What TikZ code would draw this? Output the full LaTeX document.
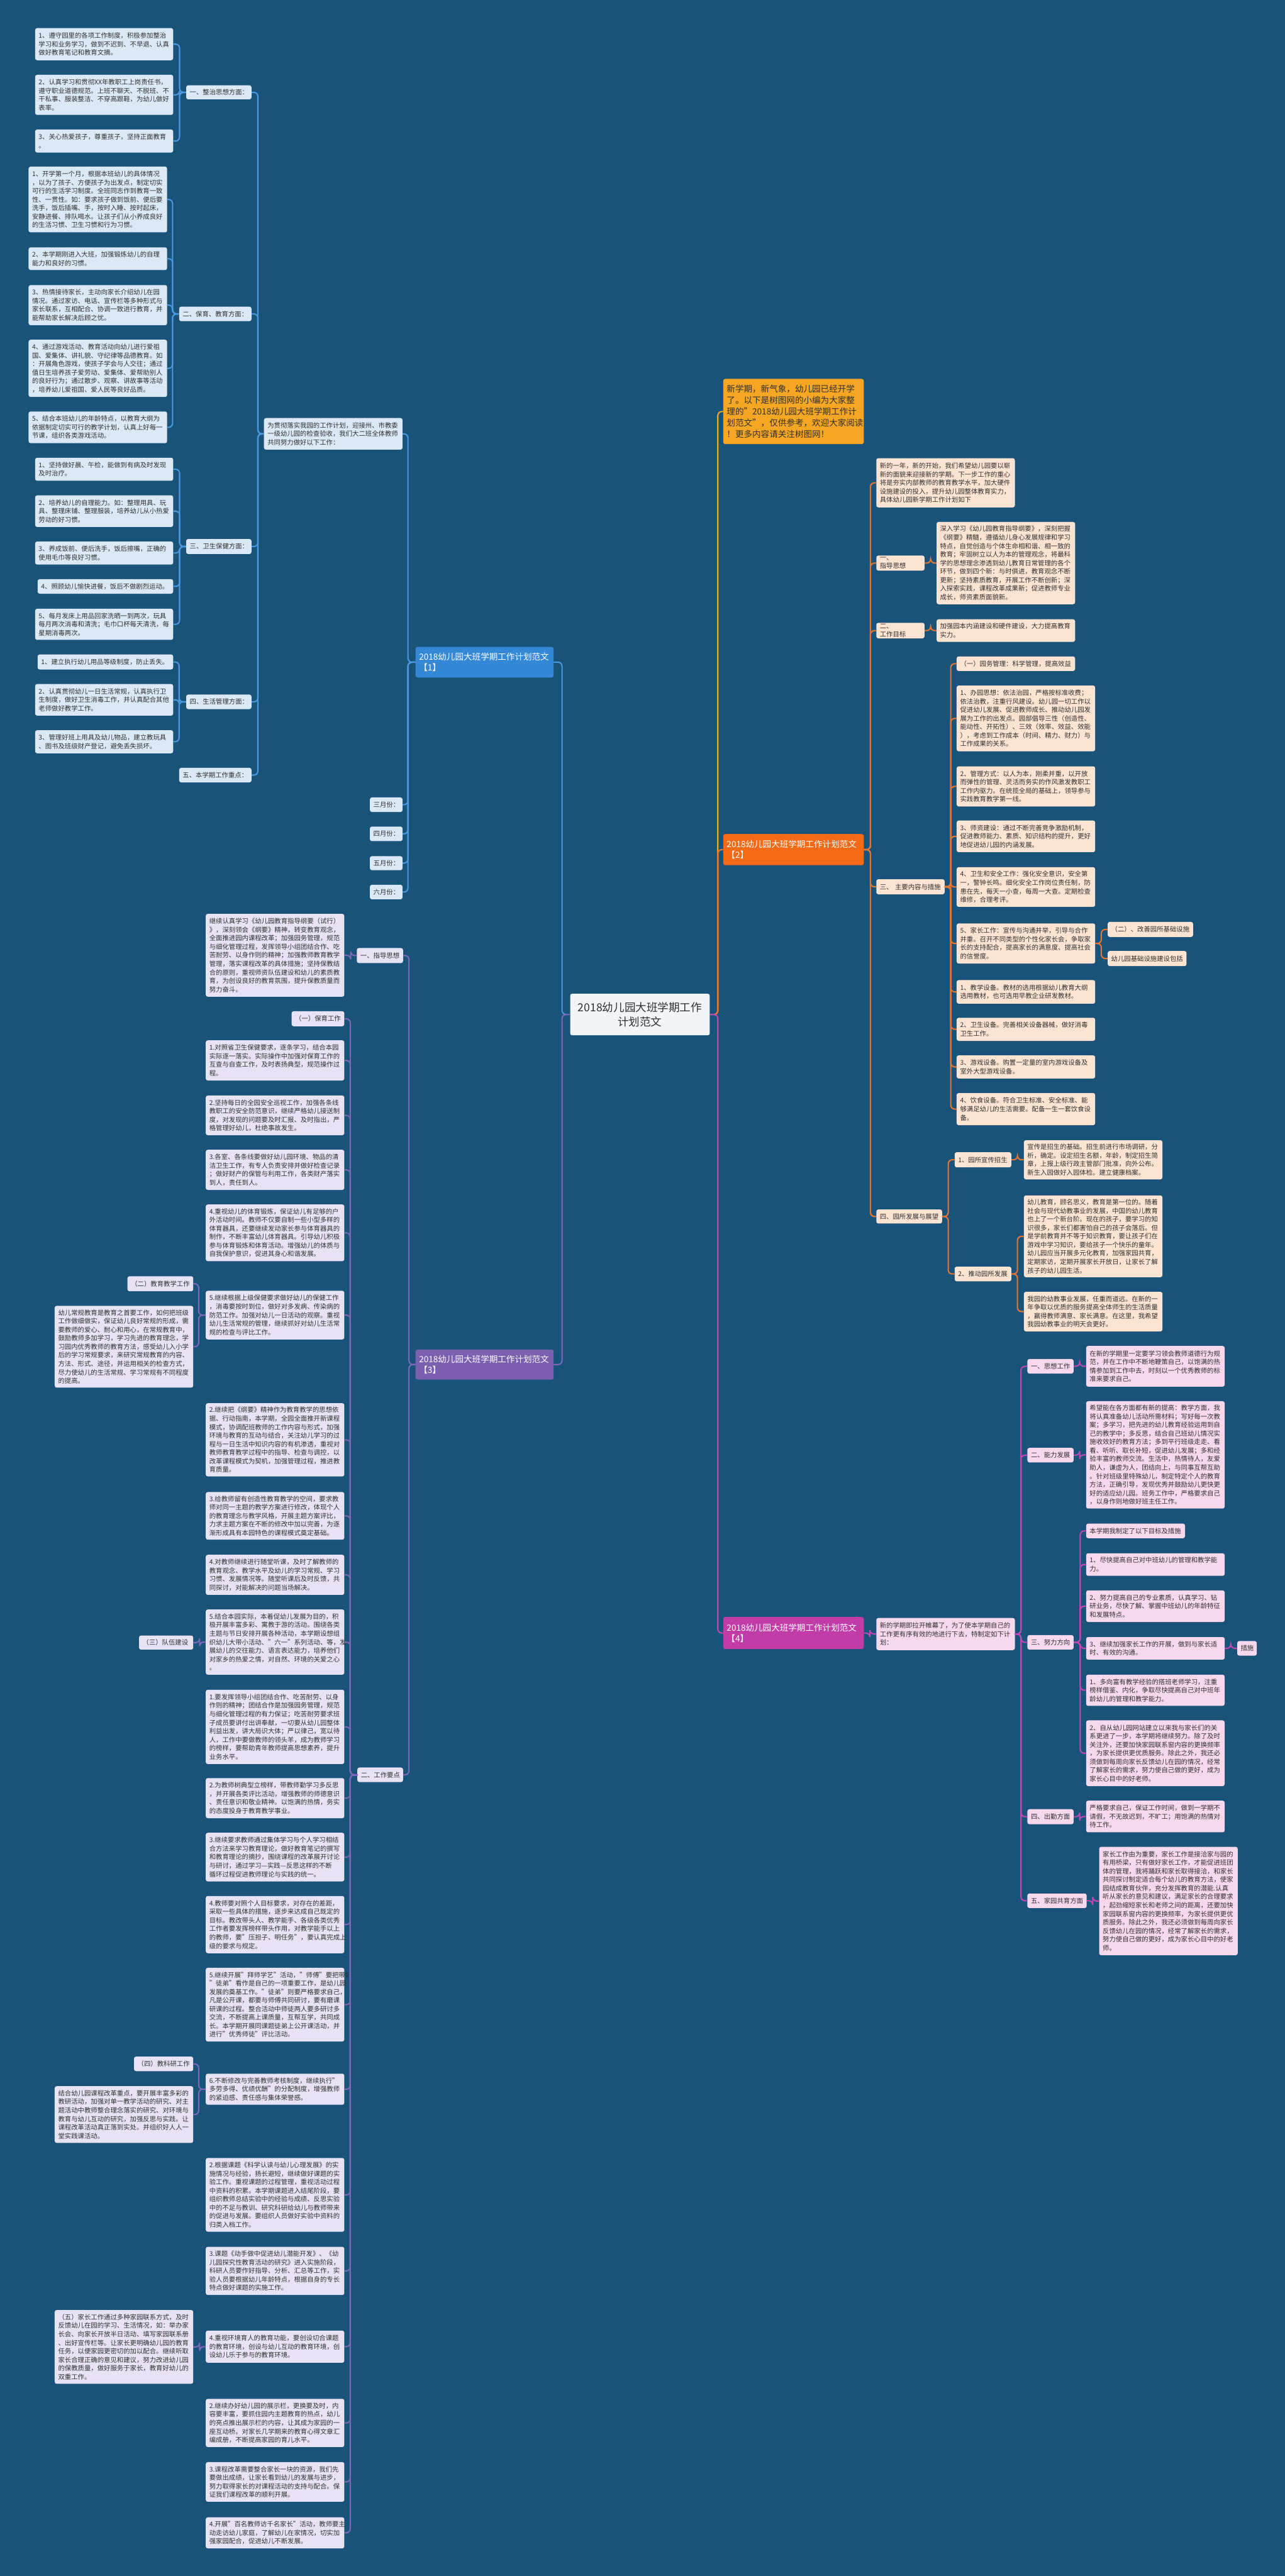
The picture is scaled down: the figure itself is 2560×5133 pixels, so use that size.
\documentclass[tikz,border=0pt]{standalone}
\usepackage{fontspec}
\setmainfont{Noto Sans CJK SC}
\definecolor{bg}{RGB}{26,83,122}
\definecolor{txt}{RGB}{48,48,48}
\definecolor{c1}{RGB}{52,136,214}
\definecolor{l1c}{RGB}{74,152,224}
\definecolor{f1}{RGB}{219,233,246}
\definecolor{c2}{RGB}{244,106,22}
\definecolor{l2c}{RGB}{232,118,48}
\definecolor{f2}{RGB}{253,228,210}
\definecolor{amb}{RGB}{245,166,35}
\definecolor{c3}{RGB}{123,96,176}
\definecolor{l3c}{RGB}{124,104,184}
\definecolor{f3}{RGB}{232,227,244}
\definecolor{c4}{RGB}{194,60,168}
\definecolor{l4c}{RGB}{190,72,182}
\definecolor{f4}{RGB}{247,216,237}
\tikzset{
  base/.style={rectangle, rounded corners=4pt, inner xsep=7pt, inner ysep=1pt, align=left, text=txt, font=\fontsize{13}{17}\selectfont},
  b1/.style={base, fill=f1},
  b2/.style={base, fill=f2},
  b3/.style={base, fill=f3},
  b4/.style={base, fill=f4},
  big/.style={base, text=white, font=\fontsize{17}{22}\selectfont},
  introbox/.style={base, fill=amb, text=txt, font=\fontsize{17}{22.6}\selectfont},
  conn/.style={line width=2.6pt, rounded corners=8pt},
  l1/.style={conn, draw=l1c},
  l2/.style={conn, draw=l2c},
  l3/.style={conn, draw=l3c},
  l4/.style={conn, draw=l4c},
}
\newcommand{\mynd}[7]{%
  \pgfmathsetmacro\bxw{#5-#3}\pgfmathsetmacro\bxh{#6-#4}%
  \pgfmathsetmacro\bxt{#5-#3-14}%
  \pgfmathsetmacro\bxcx{(#3+#5)/2}\pgfmathsetmacro\bxcy{(#4+#6)/2}%
  \node[#2, text width=\bxt pt, minimum width=\bxw pt, minimum height=\bxh pt] (#1) at (\bxcx,\bxcy) {#7};}
\newcommand{\cR}[4]{\draw[#1] (#2.east) -- ++(#4,0) |- (#3.west);}
\newcommand{\cL}[4]{\draw[#1] (#2.west) -- ++(-#4,0) |- (#3.east);}
\begin{document}
\begin{tikzpicture}[x=1pt,y=-1pt]
\fill[bg] (0,0) rectangle (2560,5133);
\useasboundingbox (0,0) rectangle (2560,5133);

% center
\node[rectangle, rounded corners=4pt, fill=white!94!bg, text=txt, align=center, font=\fontsize{22}{28}\selectfont, minimum width=278pt, minimum height=83pt, inner sep=2pt] (C) at (1275,2021.5) {2018幼儿园大班学期工作\\计划范文};

% ===== Branch 1 =====
\mynd{n1}{big, fill=c1}{828}{1289}{1103}{1350}{2018幼儿园大班学期工作计划范文\\【1】}
\mynd{n1a}{b1}{526}{833}{802}{896}{为贯彻落实我园的工作计划，迎接州、市教委\\一级幼儿园的检查验收，我们大二班全体教师\\共同努力做好以下工作：}
\mynd{m3}{b1}{737}{1589}{802}{1618}{三月份：}
\mynd{m4}{b1}{737}{1647}{802}{1676}{四月份：}
\mynd{m5}{b1}{737}{1706}{802}{1734}{五月份：}
\mynd{m6}{b1}{737}{1763}{802}{1792}{六月份：}
\mynd{L11}{b1}{371}{170}{501}{198}{一、整治思想方面：}
\mynd{L12}{b1}{357}{611}{501}{640}{二、保育、教育方面：}
\mynd{L13}{b1}{371}{1074}{501}{1104}{三、卫生保健方面：}
\mynd{L14}{b1}{371}{1384}{501}{1413}{四、生活管理方面：}
\mynd{L15}{b1}{357}{1530}{501}{1559}{五、本学期工作重点：}
\mynd{i11}{b1}{70}{56}{345}{120}{1、遵守园里的各项工作制度，积极参加整治\\学习和业务学习，做到不迟到、不早退、认真\\做好教育笔记和教育文摘。}
\mynd{i12}{b1}{70}{149}{345}{229}{2、认真学习和贯彻XX年教职工上岗责任书，\\遵守职业道德规范。上班不聊天、不脱班、不\\干私事、服装整洁、不穿高跟鞋，为幼儿做好\\表率。}
\mynd{i13}{b1}{70}{258}{345}{304}{3、关心热爱孩子，尊重孩子，坚持正面教育\\。}
\mynd{i21}{b1}{57}{332}{333}{463}{1、开学第一个月，根据本班幼儿的具体情况\\，以为了孩子、方便孩子为出发点，制定切实\\可行的生活学习制度。全班同志作到教育一致\\性、一贯性。如：要求孩子做到饭前、便后要\\洗手，饭后插嘴、手，按时入睡、按时起床，\\安静进餐、排队喝水。让孩子们从小养成良好\\的生活习惯、卫生习惯和行为习惯。}
\mynd{i22}{b1}{57}{493}{333}{538}{2、本学期刚进入大班，加强锻炼幼儿的自理\\能力和良好的习惯。}
\mynd{i23}{b1}{57}{568}{333}{648}{3、热情接待家长，主动向家长介绍幼儿在园\\情况。通过家访、电话、宣传栏等多种形式与\\家长联系，互相配合、协调一致进行教育，并\\能帮助家长解决后顾之忧。}
\mynd{i24}{b1}{57}{677}{333}{791}{4、通过游戏活动、教育活动向幼儿进行爱祖\\国、爱集体、讲礼貌、守纪律等品德教育。如\\：开展角色游戏，使孩子学会与人交往；通过\\值日生培养孩子爱劳动、爱集体、爱帮助别人\\的良好行为；通过散步、观察、讲故事等活动\\，培养幼儿爱祖国、爱人民等良好品质。}
\mynd{i25}{b1}{57}{820}{333}{883}{5、结合本班幼儿的年龄特点，以教育大纲为\\依据制定切实可行的教学计划，认真上好每一\\节课，组织各类游戏活动。}
\mynd{i31}{b1}{70}{912}{345}{958}{1、坚持做好晨、午检，能做到有病及时发现\\及时治疗。}
\mynd{i32}{b1}{70}{987}{345}{1050}{2、培养幼儿的自理能力。如：整理用具、玩\\具、整理床铺、整理服装，培养幼儿从小热爱\\劳动的好习惯。}
\mynd{i33}{b1}{70}{1079}{345}{1125}{3、养成饭前、便后洗手，饭后擦嘴，正确的\\使用毛巾等良好习惯。}
\mynd{i34}{b1}{75}{1154}{345}{1183}{4、照顾幼儿愉快进餐，饭后不做剧烈运动。}
\mynd{i35}{b1}{70}{1213}{345}{1275}{5、每月发床上用品回家洗晒一到两次，玩具\\每月两次消毒和清洗；毛巾口杯每天清洗，每\\星期消毒两次。}
\mynd{i41}{b1}{75}{1304}{345}{1334}{1、建立执行幼儿用品等级制度，防止丢失。}
\mynd{i42}{b1}{70}{1363}{345}{1426}{2、认真贯彻幼儿一日生活常规，认真执行卫\\生制度，做好卫生消毒工作，并认真配合其他\\老师做好教学工作。}
\mynd{i43}{b1}{70}{1455}{345}{1501}{3、管理好班上用具及幼儿物品，建立教玩具\\、图书及班级财产登记，避免丢失损坏。}

% ===== Branch 3 =====
\mynd{n3}{big, fill=c3}{828}{2689}{1103}{2749}{2018幼儿园大班学期工作计划范文\\【3】}
\mynd{n3L1}{b3}{711}{1889}{803}{1919}{一、指导思想}
\mynd{n3t1}{b3}{410}{1821}{686}{1986}{继续认真学习《幼儿园教育指导纲要（试行）\\》，深刻领会《纲要》精神，转变教育观念，\\全面推进园内课程改革；加强园务管理，规范\\与细化管理过程，发挥领导小组团结合作、吃\\苦耐劳、以身作则的精神；加强教师教育教学\\管理，落实课程改革的具体措施；坚持保教结\\合的原则，重视师资队伍建设和幼儿的素质教\\育，为创设良好的教育氛围，提升保教质量而\\努力奋斗。}
\mynd{n3L2}{b3}{712}{3522}{803}{3551}{二、工作要点}
\mynd{w1}{b3}{581}{2015}{686}{2045}{（一）保育工作}
\mynd{w2}{b3}{410}{2073}{686}{2153}{1.对照省卫生保健要求，逐条学习，结合本园\\实际逐一落实。实际操作中加强对保育工作的\\互查与自查工作，及时表扬典型，规范操作过\\程。}
\mynd{w3}{b3}{410}{2183}{686}{2262}{2.坚持每日的全园安全巡视工作，加强各条线\\教职工的安全防范意识，继续严格幼儿接送制\\度，对发现的问题要及时汇报、及时指出，严\\格管理好幼儿，杜绝事故发生。}
\mynd{w4}{b3}{410}{2291}{686}{2371}{3.各室、各条线要做好幼儿园环境、物品的清\\洁卫生工作，有专人负责安排并做好检查记录\\；做好财产的保管与利用工作，各类财产落实\\到人，责任到人。}
\mynd{w5}{b3}{410}{2400}{686}{2513}{4.重视幼儿的体育锻炼，保证幼儿有足够的户\\外活动时间。教师不仅要自制一些小型多样的\\体育器具，还要继续发动家长参与体育器具的\\制作，不断丰富幼儿体育器具。引导幼儿积极\\参与体育锻炼和体育活动。增强幼儿的体质与\\自我保护意识，促进其身心和谐发展。}
\mynd{w6}{b3}{410}{2572}{686}{2669}{5.继续根据上级保健要求做好幼儿的保健工作\\，消毒要按时到位，做好对多发病、传染病的\\防范工作。加强对幼儿一日活动的观察。重视\\幼儿生活常规的管理，继续抓好对幼儿生活常\\规的检查与评比工作。}
\mynd{w6a}{b3}{254}{2543}{385}{2573}{（二）教育教学工作}
\mynd{w6b}{b3}{109}{2602}{385}{2765}{幼儿常规教育是教育之首要工作，如何把班级\\工作做细做实，保证幼儿良好常规的形成，需\\要教师的爱心、耐心和用心，在常规教育中，\\鼓励教师多加学习，学习先进的教育理念，学\\习园内优秀教师的教育方法，感受幼儿入小学\\后的学习常规要求，来研究常规教育的内容、\\方法、形式、途径，并运用相关的检查方式，\\尽力使幼儿的生活常规、学习常规有不同程度\\的提高。}
\mynd{w7}{b3}{410}{2796}{686}{2942}{2.继续把《纲要》精神作为教育教学的思想依\\据、行动指南，本学期，全园全面推开新课程\\模式，协调配班教师的工作内容与形式，加强\\环境与教育的互动与结合，关注幼儿学习的过\\程与一日生活中知识内容的有机渗透，重视对\\教师教育教学过程中的指导、检查与调控，以\\改革课程模式为契机，加强管理过程，推进教\\育质量。}
\mynd{w8}{b3}{410}{2973}{686}{3068}{3.给教师留有创造性教育教学的空间，要求教\\师对同一主题的教学方案进行修改，体现个人\\的教育理念与教学风格，开展主题方案评比，\\力求主题方案在不断的修改中加以完善，为逐\\渐形成具有本园特色的课程模式奠定基础。}
\mynd{w9}{b3}{410}{3098}{686}{3178}{4.对教师继续进行随堂听课，及时了解教师的\\教育观念、教学水平及幼儿的学习常规、学习\\习惯、发展情况等。随堂听课后及时反馈，共\\同探讨，对能解决的问题当场解决。}
\mynd{w10}{b3}{410}{3207}{686}{3337}{5.结合本园实际，本着促幼儿发展为目的，积\\极开展丰富多彩、寓教于游的活动。围绕各类\\主题与节日安排开展各种活动，本学期设想组\\织幼儿大带小活动、"六一"系列活动、等，发\\展幼儿的交往能力、语言表达能力，培养他们\\对家乡的热爱之情，对自然、环境的关爱之心\\。}
\mynd{w10a}{b3}{277}{3259}{385}{3287}{（三）队伍建设}
\mynd{w11}{b3}{410}{3367}{686}{3515}{1.要发挥领导小组团结合作、吃苦耐劳、以身\\作则的精神；团结合作是加强园务管理，规范\\与细化管理过程的有力保证；吃苦耐劳要求班\\子成员要讲付出讲奉献，一切要从幼儿园整体\\利益出发，讲大局识大体；严以律己，宽以待\\人，工作中要做教师的领头羊，成为教师学习\\的榜样，要帮助青年教师提高思想素养，提升\\业务水平。}
\mynd{w12}{b3}{410}{3543}{686}{3623}{2.为教师树典型立榜样，带教师勤学习多反思\\，并开展各类评比活动，增强教师的师德意识\\、责任意识和敬业精神。以饱满的热情，务实\\的态度投身于教育教学事业。}
\mynd{w13}{b3}{410}{3652}{686}{3749}{3.继续要求教师通过集体学习与个人学习相结\\合方法来学习教育理论，做好教育笔记的撰写\\和教育理论的摘抄，围绕课程的改革展开讨论\\与研讨，通过学习—实践—反思这样的不断\\循环过程促进教师理论与实践的统一。}
\mynd{w14}{b3}{410}{3778}{686}{3892}{4.教师要对照个人目标要求，对存在的差距，\\采取一些具体的措施，逐步来达成自己既定的\\目标。教改带头人、教学能手、各级各类优秀\\工作者要发挥榜样带头作用，对教学能手以上\\的教师，要"压担子、明任务"，要认真完成上\\级的要求与规定。}
\mynd{w15}{b3}{410}{3921}{686}{4068}{5.继续开展"拜师学艺"活动，"师傅"要把带好\\"徒弟"看作是自己的一项重要工作，是幼儿园\\发展的奠基工作。"徒弟"则要严格要求自己，\\凡是公开课，都要与师傅共同研讨，要有磨课\\研课的过程。整合活动中师徒两人要多研讨多\\交流，不断提高上课质量，互帮互学，共同成\\长。本学期开展同课题徒弟上公开课活动，并\\进行"优秀师徒"评比活动。}
\mynd{w16}{b3}{410}{4132}{686}{4194}{6.不断修改与完善教师考核制度，继续执行"\\多劳多得、优绩优酬"的分配制度，增强教师\\的紧迫感、责任感与集体荣誉感。}
\mynd{w16a}{b3}{267}{4098}{385}{4127}{（四）教科研工作}
\mynd{w16b}{b3}{109}{4157}{385}{4270}{结合幼儿园课程改革重点，要开展丰富多彩的\\教研活动，加强对单一教学活动的研究、对主\\题活动中教师整合理念落实的研究、对环境与\\教育与幼儿互动的研究，加强反思与实践。让\\课程改革活动真正落到实处。并组织好人人一\\堂实践课活动。}
\mynd{w17}{b3}{410}{4300}{686}{4447}{2.根据课题《科学认读与幼儿心理发展》的实\\施情况与经验，扬长避短，继续做好课题的实\\验工作。重视课题的过程管理，重视活动过程\\中资料的积累。本学期课题进入结尾阶段，要\\组织教师总结实验中的经验与成绩、反思实验\\中的不足与教训、研究科研给幼儿与教师带来\\的促进与发展。要组织人员做好实验中资料的\\归类入档工作。}
\mynd{w18}{b3}{410}{4477}{686}{4573}{3.课题《动手做中促进幼儿潜能开发》、《幼\\儿园探究性教育活动的研究》进入实施阶段，\\科研人员要作好指导、分析、汇总等工作，实\\验人员要根据幼儿年龄特点，根据自身的专长\\特点做好课题的实施工作。}
\mynd{w19}{b3}{410}{4644}{686}{4708}{4.重视环境育人的教育功能，要创设切合课题\\的教育环境，创设与幼儿互动的教育环境，创\\设幼儿乐于参与的教育环境。}
\mynd{w19a}{b3}{109}{4603}{385}{4750}{（五）家长工作通过多种家园联系方式，及时\\反馈幼儿在园的学习、生活情况，如：举办家\\长会、向家长开放半日活动、填写家园联系册\\、出好宣传栏等。让家长更明确幼儿园的教育\\任务，以便家园更密切的加以配合。继续听取\\家长合理正确的意见和建议，努力改进幼儿园\\的保教质量，做好服务于家长，教育好幼儿的\\双重工作。}
\mynd{w20}{b3}{410}{4780}{686}{4876}{2.继续办好幼儿园的展示栏，更换要及时，内\\容要丰富，要抓住园内主题教育的热点，幼儿\\的亮点推出展示栏的内容，让其成为家园的一\\座互动桥。对家长几学期来的教育心得文章汇\\编成册，不断提高家园的育儿水平。}
\mynd{w21}{b3}{410}{4906}{686}{4985}{3.课程改革需要整合家长一块的资源，我们先\\要做出成绩，让家长看到幼儿的发展与进步，\\努力取得家长的对课程活动的支持与配合。保\\证我们课程改革的顺利开展。}
\mynd{w22}{b3}{410}{5016}{686}{5078}{4.开展"百名教师访千名家长"活动，教师要主\\动走访幼儿家庭，了解幼儿在家情况，切实加\\强家园配合，促进幼儿不断发展。}

% ===== Branch 2 =====
\mynd{intro}{introbox}{1441}{755}{1721}{885}{新学期，新气象，幼儿园已经开学\\了。以下是树图网的小编为大家整\\理的"2018幼儿园大班学期工作计\\划范文"，仅供参考，欢迎大家阅读\\！更多内容请关注树图网！}
\mynd{n2}{big, fill=c2}{1441}{1662}{1721}{1724}{2018幼儿园大班学期工作计划范文\\【2】}
\mynd{r1}{b2}{1746}{913}{2022}{1011}{新的一年，新的开始，我们希望幼儿园要以崭\\新的面貌来迎接新的学期。下一步工作的重心\\将是夯实内部教师的教育教学水平，加大硬件\\设施建设的投入，提升幼儿园整体教育实力，\\具体幼儿园新学期工作计划如下}
\mynd{r2}{b2}{1746}{1107}{1842}{1137}{一、 指导思想}
\mynd{r2t}{b2}{1866}{1040}{2142}{1204}{深入学习《幼儿园教育指导纲要》，深刻把握\\《纲要》精髓，遵循幼儿身心发展规律和学习\\特点，自觉创造与个体生命相和谐、相一致的\\教育；牢固树立以人为本的管理观念，将最科\\学的思想理念渗透到幼儿教育日常管理的各个\\环节，做到四个新：与时俱进，教育观念不断\\更新；坚持素质教育，开展工作不断创新；深\\入探索实践，课程改革成果新；促进教师专业\\成长，师资素质面貌新。}
\mynd{r3}{b2}{1746}{1241}{1842}{1272}{二、 工作目标}
\mynd{r3t}{b2}{1866}{1234}{2142}{1279}{加强园本内涵建设和硬件建设，大力提高教育\\实力。}
\mynd{r4}{b2}{1746}{1752}{1882}{1782}{三、 主要内容与措施}
\mynd{s0}{b2}{1906}{1308}{2142}{1337}{（一）园务管理：科学管理，提高效益}
\mynd{s1}{b2}{1906}{1366}{2182}{1497}{1、办园思想：依法治园，严格按标准收费；\\依法治教，注重行风建设。幼儿园一切工作以\\促进幼儿发展、促进教师成长、推动幼儿园发\\展为工作的出发点。园部倡导三性（创造性、\\能动性、开拓性）、三效（效率、效益、效能\\），考虑到工作成本（时间、精力、财力）与\\工作成果的关系。}
\mynd{s2}{b2}{1906}{1527}{2182}{1607}{2、管理方式：以人为本，刚柔并重，以开放\\而弹性的管理、灵活而务实的作风激发教职工\\工作内驱力。在统揽全局的基础上，领导参与\\实践教育教学第一线。}
\mynd{s3}{b2}{1906}{1635}{2182}{1698}{3、师资建设：通过不断完善竞争激励机制，\\促进教师能力、素质、知识结构的提升，更好\\地促进幼儿园的内涵发展。}
\mynd{s4}{b2}{1906}{1728}{2182}{1807}{4、卫生和安全工作：强化安全意识，安全第\\一，警钟长鸣。细化安全工作岗位责任制，防\\患在先，每天一小查，每周一大查。定期检查\\维修，合理考评。}
\mynd{s5}{b2}{1906}{1840}{2182}{1920}{5、家长工作：宣传与沟通并举，引导与合作\\并重。召开不同类型的个性化家长会，争取家\\长的支持配合，提高家长的满意度、提高社会\\的信誉度。}
\mynd{s5a}{b2}{2207}{1837}{2377}{1867}{（二）、改善园所基础设施}
\mynd{s5b}{b2}{2207}{1895}{2364}{1925}{幼儿园基础设施建设包括}
\mynd{s6}{b2}{1906}{1953}{2182}{2000}{1、教学设备。教材的选用根据幼儿教育大纲\\选用教材，也可选用早教企业研发教材。}
\mynd{s7}{b2}{1906}{2028}{2182}{2074}{2、卫生设备。完善相关设备器械，做好消毒\\卫生工作。}
\mynd{s8}{b2}{1906}{2103}{2182}{2149}{3、游戏设备。购置一定量的室内游戏设备及\\室外大型游戏设备。}
\mynd{s9}{b2}{1906}{2178}{2182}{2242}{4、饮食设备。符合卫生标准、安全标准、能\\够满足幼儿的生活需要。配备一生一套饮食设\\备。}
\mynd{r5}{b2}{1746}{2410}{1877}{2438}{四、园所发展与展望}
\mynd{u1}{b2}{1902}{2296}{2015}{2326}{1、园所宣传招生}
\mynd{u1t}{b2}{2040}{2272}{2316}{2350}{宣传是招生的基础。招生前进行市场调研，分\\析，确定。设定招生名额，年龄，制定招生简\\章，上报上级行政主管部门批准，向外公布。\\新生入园做好入园体检。建立健康档案。}
\mynd{u2}{b2}{1902}{2524}{2015}{2553}{2、推动园所发展}
\mynd{u2a}{b2}{2040}{2382}{2316}{2545}{幼儿教育，顾名思义，教育是第一位的。随着\\社会与现代幼教事业的发展，中国的幼儿教育\\也上了一个新台阶。现在的孩子，要学习的知\\识很多，家长们都害怕自己的孩子会落后。但\\是学前教育并不等于知识教育，要让孩子们在\\游戏中学习知识，要给孩子一个快乐的童年。\\幼儿园应当开展多元化教育，加强家园共育，\\定期家访，定期开展家长开放日，让家长了解\\孩子的幼儿园生活。}
\mynd{u2b}{b2}{2040}{2574}{2316}{2653}{我园的幼教事业发展，任重而道远。在新的一\\年争取以优质的服务提高全体师生的生活质量\\，赢得教师满意、家长满意。在这里，我希望\\我园幼教事业的明天会更好。}

% ===== Branch 4 =====
\mynd{n4}{big, fill=c4}{1441}{3222}{1721}{3286}{2018幼儿园大班学期工作计划范文\\【4】}
\mynd{q0}{b4}{1746}{3224}{2022}{3288}{新的学期即拉开帷幕了，为了使本学期自己的\\工作更有序有效的地进行下去，特制定如下计\\划：}
\mynd{q1}{b4}{2047}{2708}{2139}{2737}{一、思想工作}
\mynd{q1t}{b4}{2164}{2682}{2440}{2763}{在新的学期里一定要学习领会教师道德行为规\\范，并在工作中不断地鞭策自己，以饱满的热\\情参加到工作中去，时刻以一个优秀教师的标\\准来要求自己。}
\mynd{q2}{b4}{2047}{2885}{2139}{2914}{二、能力发展}
\mynd{q2t}{b4}{2164}{2792}{2440}{3006}{希望能在各方面都有新的提高：教学方面，我\\将认真准备幼儿活动所需材料；写好每一次教\\案；多学习，把先进的幼儿教育经验运用到自\\己的教学中；多反思，结合自己班幼儿情况实\\施收效好的教育方法；多到平行班级走走、看\\看、听听、取长补短，促进幼儿发展；多和经\\验丰富的教师交流。生活中，热情待人，友爱\\助人，谦虚为人，团结向上，与同事互帮互助\\。针对班级里特殊幼儿，制定特定个人的教育\\方法，正确引导，发现优秀并鼓励幼儿更快更\\好的适应幼儿园。班务工作中，严格要求自己\\，以身作则地做好班主任工作。}
\mynd{q3}{b4}{2047}{3258}{2139}{3287}{三、努力方向}
\mynd{q3a}{b4}{2164}{3036}{2361}{3065}{本学期我制定了以下目标及措施}
\mynd{q3b}{b4}{2164}{3095}{2440}{3140}{1、尽快提高自己对中班幼儿的管理和教学能\\力。}
\mynd{q3c}{b4}{2164}{3169}{2440}{3232}{2、努力提高自己的专业素质，认真学习、钻\\研业务，尽快了解、掌握中班幼儿的年龄特征\\和发展特点。}
\mynd{q3d}{b4}{2164}{3262}{2440}{3307}{3、继续加强家长工作的开展，做到与家长适\\时、有效的沟通。}
\mynd{q3d1}{b4}{2465}{3270}{2504}{3299}{措施}
\mynd{q3e}{b4}{2164}{3337}{2440}{3399}{1、多向富有教学经验的搭班老师学习，注重\\榜样借鉴、内化，争取尽快提高自己对中班年\\龄幼儿的管理和教学能力。}
\mynd{q3f}{b4}{2164}{3428}{2440}{3559}{2、自从幼儿园网站建立以来我与家长们的关\\系更进了一步，本学期将继续努力。除了及时\\关注外，还要加快家园联系窗内容的更换频率\\，为家长提供更优质服务。除此之外，我还必\\须做到每周向家长反馈幼儿在园的情况，经常\\了解家长的需求，努力使自己做的更好，成为\\家长心目中的好老师。}
\mynd{q4}{b4}{2047}{3605}{2139}{3635}{四、出勤方面}
\mynd{q4t}{b4}{2164}{3588}{2440}{3651}{严格要求自己，保证工作时间，做到一学期不\\请假，不无故迟到，不旷工；用饱满的热情对\\待工作。}
\mynd{q5}{b4}{2047}{3773}{2165}{3802}{五、家园共育方面}
\mynd{q5t}{b4}{2190}{3680}{2466}{3896}{家长工作由为重要，家长工作是接洽家与园的\\有用桥梁，只有做好家长工作，才能促进班团\\体的管理，我将踊跃和家长取得接洽，和家长\\共同探讨制定适合每个幼儿的教育方法，使家\\园结成教育伙伴，充分发挥教育的潜能.认真\\听从家长的意见和建议，满足家长的合理要求\\，起劲缩短家长和老师之间的距离，还要加快\\家园联系窗内容的更换频率，为家长提供更优\\质服务。除此之外，我还必须做到每周向家长\\反馈幼儿在园的情况，经常了解家长的需求，\\努力使自己做的更好，成为家长心目中的好老\\师。}

% ===== connectors =====
\begin{scope}[on background layer/.style={}]
\cL{l1}{C}{n1}{16}
\cL{l3}{C}{n3}{16}
\cR{conn, draw=amb}{C}{intro}{16}
\cR{l2}{C}{n2}{16}
\cR{l4}{C}{n4}{16}
% branch 1
\foreach \c in {n1a,m3,m4,m5,m6} {\cL{l1}{n1}{\c}{15}}
\foreach \c in {L11,L12,L13,L14,L15} {\cL{l1}{n1a}{\c}{12}}
\foreach \c in {i11,i12,i13} {\cL{l1}{L11}{\c}{13}}
\foreach \c in {i21,i22,i23,i24,i25} {\cL{l1}{L12}{\c}{13}}
\foreach \c in {i31,i32,i33,i34,i35} {\cL{l1}{L13}{\c}{13}}
\foreach \c in {i41,i42,i43} {\cL{l1}{L14}{\c}{14}}
% branch 3
\cL{l3}{n3}{n3L1}{13}
\cL{l3}{n3}{n3L2}{13}
\cL{l3}{n3L1}{n3t1}{12}
\foreach \c in {w1,w2,w3,w4,w5,w6,w7,w8,w9,w10,w11,w12,w13,w14,w15,w16,w17,w18,w19,w20,w21,w22} {\cL{l3}{n3L2}{\c}{14}}
\cL{l3}{w6}{w6a}{14}
\cL{l3}{w6}{w6b}{14}
\cL{l3}{w10}{w10a}{12}
\cL{l3}{w16}{w16a}{14}
\cL{l3}{w16}{w16b}{14}
\cL{l3}{w19}{w19a}{12}
% branch 2
\foreach \c in {r1,r2,r3,r4,r5} {\cR{l2}{n2}{\c}{13}}
\cR{l2}{r2}{r2t}{12}
\cR{l2}{r3}{r3t}{12}
\foreach \c in {s0,s1,s2,s3,s4,s5,s6,s7,s8,s9} {\cR{l2}{r4}{\c}{12}}
\cR{l2}{s5}{s5a}{12}
\cR{l2}{s5}{s5b}{12}
\cR{l2}{r5}{u1}{12}
\cR{l2}{r5}{u2}{12}
\cR{l2}{u1}{u1t}{12}
\cR{l2}{u2}{u2a}{12}
\cR{l2}{u2}{u2b}{12}
% branch 4
\cR{l4}{n4}{q0}{12}
\foreach \c in {q1,q2,q3,q4,q5} {\cR{l4}{q0}{\c}{12}}
\cR{l4}{q1}{q1t}{12}
\cR{l4}{q2}{q2t}{12}
\foreach \c in {q3a,q3b,q3c,q3d,q3e,q3f} {\cR{l4}{q3}{\c}{13}}
\cR{l4}{q3d}{q3d1}{12}
\cR{l4}{q4}{q4t}{12}
\cR{l4}{q5}{q5t}{12}
\end{scope}
\end{tikzpicture}
\end{document}
